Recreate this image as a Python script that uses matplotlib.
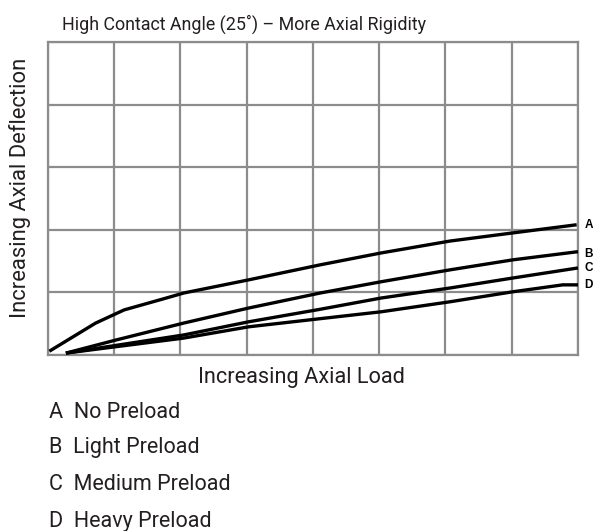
import numpy as np
import matplotlib.pyplot as plt

# curve data (grid units: 8 columns x 5 rows)
a_x = [0.02, 0.72, 1.15, 1.72, 2.05, 3.03, 4.11, 5.03, 6.07, 7.02, 7.98]
a_y = [0.06, 0.51, 0.72, 0.89, 0.99, 1.20, 1.44, 1.63, 1.82, 1.95, 2.08]
b_x = [0.27, 1.03, 2.05, 3.03, 4.11, 5.03, 6.07, 7.02, 8.0]
b_y = [0.03, 0.24, 0.51, 0.75, 0.99, 1.17, 1.36, 1.52, 1.65]
c_x = [0.27, 2.05, 3.03, 4.11, 5.03, 6.07, 7.02, 8.0]
c_y = [0.03, 0.32, 0.53, 0.73, 0.91, 1.07, 1.23, 1.39]
d_x = [0.27, 2.05, 3.03, 4.11, 5.03, 6.07, 7.02, 7.77, 8.0]
d_y = [0.03, 0.27, 0.45, 0.58, 0.69, 0.85, 1.01, 1.12, 1.12]

letters = ["A", "B", "C", "D"]
names = ["No Preload", "Light Preload", "Medium Preload", "Heavy Preload"]
label_y = [2.08, 1.62, 1.39, 1.12]

plt.rcParams["font.family"] = ["Roboto", "DejaVu Sans"]

ink = "#231f20"
grey = "#8c8c8c"

fig = plt.figure(figsize=(6, 5.31), dpi=100)
ax = fig.add_axes([0.08, 0.3315, 0.8833, 0.5895])

ax.set_xlim(0, 8)
ax.set_ylim(0, 5)
ax.set_xticks(range(9))
ax.set_yticks(range(6))
ax.tick_params(length=0, labelbottom=False, labelleft=False)
ax.grid(True, color=grey, linewidth=1.6)
for s in ax.spines.values():
    s.set_color(grey)
    s.set_linewidth(1.6)

for xs, ys in [(a_x, a_y), (b_x, b_y), (c_x, c_y), (d_x, d_y)]:
    ax.plot(xs, ys, color="black", linewidth=2.4, solid_capstyle="butt", clip_on=False, zorder=3)

for let, yv in zip(letters, label_y):
    ax.text(8.1, yv, let, fontsize=8.5, fontweight="bold", family="Liberation Sans",
            ha="left", va="center", color="black")

fig.text(0.103, 0.9435, "High Contact Angle (25˚) – More Axial Rigidity", fontsize=12.9,
         color=ink, ha="left", va="baseline")
fig.text(0.0433, 0.646, "Increasing Axial Deflection", fontsize=15.8, color=ink,
         rotation=90, rotation_mode="anchor", ha="center", va="baseline")
fig.text(0.33, 0.2787, "Increasing Axial Load", fontsize=15.7, color=ink,
         ha="left", va="baseline")

rows = [0.2128, 0.1469, 0.0772, 0.0075]
for let, nm, yy in zip(letters, names, rows):
    fig.text(0.082, yy, let + "  " + nm, fontsize=15.5, color=ink, ha="left", va="baseline")

fig.savefig("out.png", dpi=100)
